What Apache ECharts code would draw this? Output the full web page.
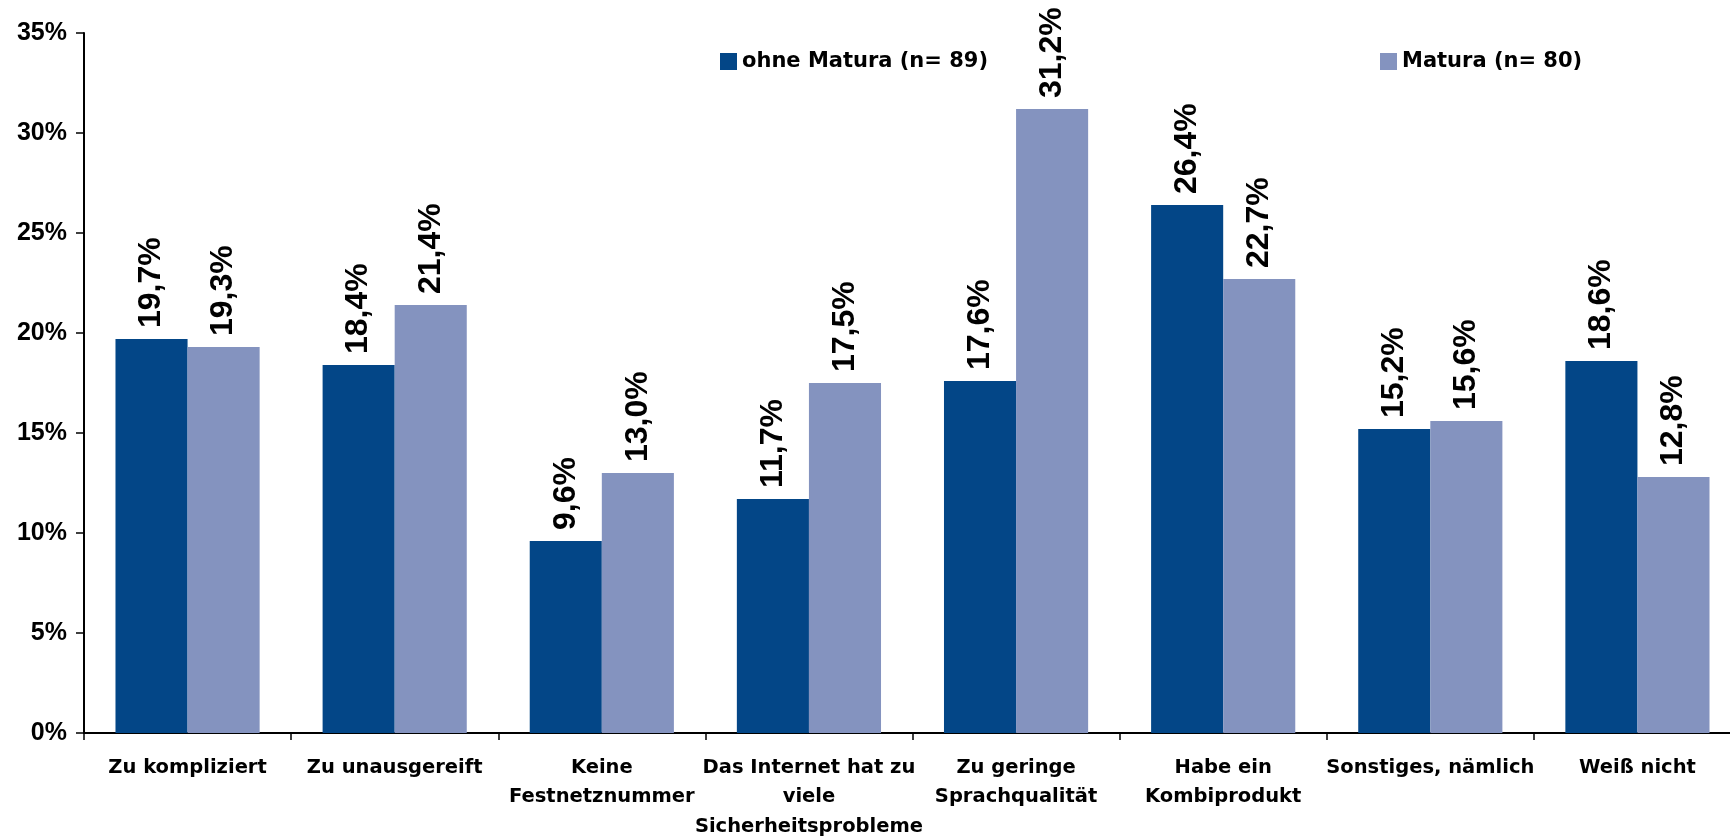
<!DOCTYPE html>
<html>
<head>
<meta charset="utf-8">
<script src="https://cdn.jsdelivr.net/npm/echarts@6/dist/echarts.min.js"></script>
<style>
  html, body { margin: 0; padding: 0; background: #ffffff; }
  #chart { width: 1730px; height: 837px; }
</style>
</head>
<body>
<div id="chart"></div>
<script>
const categories = [
  "Zu kompliziert",
  "Zu unausgereift",
  "Keine\nFestnetznummer",
  "Das Internet hat zu\nviele\nSicherheitsprobleme",
  "Zu geringe\nSprachqualität",
  "Habe ein\nKombiprodukt",
  "Sonstiges, nämlich",
  "Weiß nicht"
];
const seriesNames = ["ohne Matura (n= 89)", "Matura (n= 80)"];
const ohneMatura = [19.7, 18.4, 9.6, 11.7, 17.6, 26.4, 15.2, 18.6];
const matura = [19.3, 21.4, 13.0, 17.5, 31.2, 22.7, 15.6, 12.8];
const yTicks = [0, 5, 10, 15, 20, 25, 30, 35];

const colors = ["#034687", "#8493BF"];

const chart = echarts.init(document.getElementById('chart'));

const valueLabel = {
  show: true,
  position: 'top',
  rotate: 90,
  align: 'left',
  verticalAlign: 'middle',
  distance: 11,
  fontFamily: 'Liberation Sans, Arial, sans-serif',
  fontWeight: 'bold',
  fontSize: 32,
  color: '#000',
  formatter: p => p.value.toFixed(1).replace('.', ',') + '%'
};

const legendText = { fontFamily: 'DejaVu Sans, sans-serif', fontWeight: 'bold', fontSize: 21, color: '#000' };

chart.setOption({
  animation: false,
  backgroundColor: '#ffffff',
  legend: [
    {
      data: [seriesNames[0]],
      left: 720, top: 51, padding: 0,
      itemWidth: 17, itemHeight: 17,
      icon: 'rect',
      textStyle: legendText
    },
    {
      data: [seriesNames[1]],
      left: 1380, top: 51, padding: 0,
      itemWidth: 17, itemHeight: 17,
      icon: 'rect',
      textStyle: legendText
    }
  ],
  grid: { left: 84, top: 33, width: 1657, height: 700, containLabel: false, outerBoundsMode: 'none' },
  xAxis: {
    type: 'category',
    data: categories,
    axisLine: { lineStyle: { color: '#000', width: 2 } },
    axisTick: { show: true, alignWithLabel: false, length: 7, lineStyle: { color: '#000', width: 1.5 } },
    axisLabel: {
      interval: 0,
      margin: 20,
      fontFamily: 'DejaVu Sans, sans-serif',
      fontWeight: 'bold',
      fontSize: 19.5,
      lineHeight: 29.5,
      color: '#000'
    }
  },
  yAxis: {
    type: 'value',
    min: yTicks[0],
    max: yTicks[yTicks.length - 1],
    interval: 5,
    splitLine: { show: false },
    axisLine: { show: true, lineStyle: { color: '#000', width: 2 } },
    axisTick: { show: true, length: 8, lineStyle: { color: '#000', width: 1.5 } },
    axisLabel: {
      margin: 17,
      fontFamily: 'Liberation Sans, Arial, sans-serif',
      fontWeight: 'bold',
      fontSize: 25,
      color: '#000',
      formatter: '{value}%'
    }
  },
  series: [
    {
      name: seriesNames[0],
      type: 'bar',
      data: ohneMatura,
      barGap: '0%',
      barCategoryGap: '30.4%',
      itemStyle: { color: colors[0] },
      label: valueLabel
    },
    {
      name: seriesNames[1],
      type: 'bar',
      data: matura,
      barGap: '0%',
      barCategoryGap: '30.4%',
      itemStyle: { color: colors[1] },
      label: valueLabel
    }
  ]
});
</script>
</body>
</html>
